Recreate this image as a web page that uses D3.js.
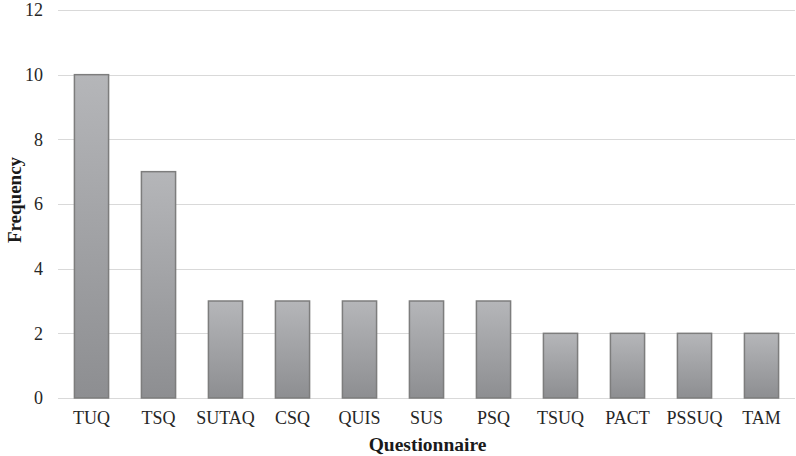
<!DOCTYPE html>
<html>
<head>
<meta charset="utf-8">
<script src="https://cdn.jsdelivr.net/npm/d3@7"></script>
<style>
  body { margin: 0; background: #fff; }
  svg { display: block; font-family: "Liberation Serif", "Times New Roman", serif; }
  svg text { font-family: "Liberation Serif", "Times New Roman", serif; }
</style>
</head>
<body>
<svg id="chart"></svg>
<script>
// questionnaires and how often each was used
let categories = ['TUQ', 'TSQ', 'SUTAQ', 'CSQ', 'QUIS', 'SUS', 'PSQ', 'TSUQ', 'PACT', 'PSSUQ', 'TAM'];
let frequency = [10, 7, 3, 3, 3, 3, 3, 2, 2, 2, 2];
let yTicks = [0, 2, 4, 6, 8, 10, 12];

let W = 796, H = 456;
let margin = { top: 10, right: 1, bottom: 58, left: 58 };
let width = W - margin.left - margin.right;
let height = H - margin.top - margin.bottom;
let serif = '"Liberation Serif", "Times New Roman", serif';

let svg = d3.select('#chart')
            .attr('width', W)
            .attr('height', H);

// bar gradient, light on top, darker at the base
let grad = svg.append('defs')
              .append('linearGradient')
              .attr('id', 'barGrad')
              .attr('x1', 0).attr('y1', 0)
              .attr('x2', 0).attr('y2', 1);
grad.append('stop').attr('offset', '0%').attr('stop-color', '#b5b6b9');
grad.append('stop').attr('offset', '100%').attr('stop-color', '#8d8e91');

let g = svg.append('g')
           .attr('transform', 'translate(' + margin.left + ',' + margin.top + ')');

let xScale = d3.scaleBand()
               .domain(categories)
               .range([0, width])
               .paddingInner(0.49)
               .paddingOuter(0.245);

let yScale = d3.scaleLinear()
               .domain([0, 12])
               .range([height, 0]);

// gridlines
g.append('g')
  .selectAll('line')
  .data(yTicks)
  .enter()
  .append('line')
  .attr('x1', 0)
  .attr('x2', width)
  .attr('y1', d => Math.round(yScale(d)) + 0.5)
  .attr('y2', d => Math.round(yScale(d)) + 0.5)
  .attr('stroke', '#d9d9d9')
  .attr('stroke-width', 1);

// y axis labels
let yAxis = d3.axisLeft(yScale)
              .tickValues(yTicks)
              .tickSize(0)
              .tickPadding(15);
g.append('g')
  .attr('id', 'y-axis')
  .call(yAxis)
  .attr('font-family', serif)
  .attr('font-size', 18)
  .call(a => a.select('.domain').remove())
  .selectAll('text')
  .attr('fill', '#262626');

// bars
g.selectAll('.bar')
  .data(frequency)
  .enter()
  .append('rect')
  .attr('class', 'bar')
  .attr('x', (d, i) => xScale(categories[i]))
  .attr('y', d => yScale(d))
  .attr('width', xScale.bandwidth())
  .attr('height', d => height - yScale(d))
  .attr('fill', 'url(#barGrad)')
  .attr('stroke', '#7d7d7d')
  .attr('stroke-width', 1.5);

// x axis labels
let xAxis = d3.axisBottom(xScale)
              .tickSize(0)
              .tickPadding(13);
g.append('g')
  .attr('id', 'x-axis')
  .attr('transform', 'translate(0,' + height + ')')
  .call(xAxis)
  .attr('font-family', serif)
  .attr('font-size', 18)
  .call(a => a.select('.domain').remove())
  .selectAll('text')
  .attr('fill', '#262626');

// axis titles
svg.append('text')
   .attr('x', margin.left + width / 2 + 1)
   .attr('y', 451)
   .attr('text-anchor', 'middle')
   .style('font-size', '19.5px')
   .style('font-weight', 'bold')
   .attr('fill', '#1a1a1a')
   .text('Questionnaire');

svg.append('text')
   .attr('transform', 'translate(21,200) rotate(-90)')
   .attr('text-anchor', 'middle')
   .style('font-size', '19px')
   .style('font-weight', 'bold')
   .attr('fill', '#1a1a1a')
   .text('Frequency');
</script>
</body>
</html>
